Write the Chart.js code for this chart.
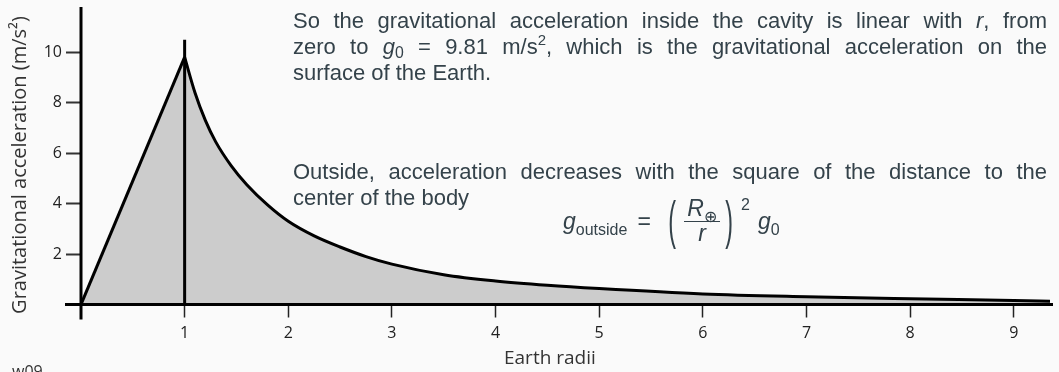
<!DOCTYPE html>
<html>
<head>
<meta charset="utf-8">
<script src="https://cdn.jsdelivr.net/npm/chart.js@4"></script>
<style>
  html, body { margin: 0; padding: 0; background: #fafafa; }
  #wrap { position: relative; width: 1059px; height: 372px; overflow: hidden; }
  canvas { position: absolute; left: 0; top: 0; }
  .note {
    position: absolute; color: #34424a;
    font: 22px "Liberation Sans", Arial, sans-serif; line-height: 26px;
  }
  .jl { text-align: justify; text-align-last: justify; white-space: nowrap; }
  .note sub { font-size: 0.72em; vertical-align: -0.25em; line-height: 0; }
  .note sup { font-size: 0.68em; vertical-align: 0.6em; line-height: 0; }
  .formula {
    position: absolute; display: flex; align-items: center; height: 50px;
    color: #34424a; white-space: nowrap;
    font: 23px "Liberation Sans", Arial, sans-serif;
  }
  .formula sub { font-size: 16px; vertical-align: -0.35em; line-height: 0; font-style: normal; }
  .paren { display: inline-block; font-size: 31px; transform: scale(0.75, 1.7); }
  .frac { display: inline-flex; flex-direction: column; align-items: center; line-height: 23px; }
  .frac .num { border-bottom: 1.5px solid #34424a; padding: 0 3px 1px; }
  .exp { font-size: 16px; align-self: flex-start; }
  .axis-title { position: absolute; color: #333; font: 19px "Open Sans", sans-serif; white-space: nowrap; }
  .y-title { position: absolute; left: 18px; top: 165px; color: #333; font: 20px "Open Sans", sans-serif;
             white-space: nowrap; transform: translate(-50%, -50%) rotate(-90deg); }
  .tag { position: absolute; left: 12px; top: 360px; color: #333; font: 16px "Open Sans", sans-serif; }
</style>
</head>
<body>
<div id="wrap">
  <canvas id="chart" width="1059" height="372"></canvas>

  <div class="note" style="left:293px; top:8px; width:754px">
    <div class="jl">So the gravitational acceleration inside the cavity is linear with <i>r</i>, from</div>
    <div class="jl">zero to <i>g</i><sub>0</sub> = 9.81 m/s<sup>2</sup>, which is the gravitational acceleration on the</div>
    <div>surface of the Earth.</div>
  </div>

  <div class="note" style="left:293px; top:159px; width:754px">
    <div class="jl">Outside, acceleration decreases with the square of the distance to the</div>
    <div>center of the body</div>
  </div>

  <div class="formula" style="left:563px; top:196px">
    <span><i>g</i><sub>outside</sub></span>
    <span style="margin:0 12px 0 10px">=</span>
    <span class="paren" style="margin-left:4px">(</span>
    <span class="frac" style="margin-left:7px"><span class="num"><i>R</i><sub>⊕</sub></span><span><i>r</i></span></span>
    <span class="paren" style="margin-left:4px">)</span>
    <span class="exp" style="margin-left:7px">2</span>
    <span style="margin-left:8px"><i>g</i><sub>0</sub></span>
  </div>

  <div class="y-title">Gravitational acceleration (m/s²)</div>
  <div class="axis-title" style="left:504px; top:344px">Earth radii</div>
  <div class="tag">w09</div>
</div>

<script>
// acceleration inside the body (linear from the centre to the surface)
const insideRadii = [0, 1];
const insideAccel = [0, 9.81];

// acceleration outside the body, falling off with distance
const outsideRadii = [1, 1.1, 1.2, 1.3, 1.45, 1.6, 1.8, 2, 2.25, 2.5, 2.75, 3, 3.5, 4, 4.5, 5, 6, 7, 8, 9, 9.35];
const outsideAccel = [9.81, 8.4, 7.3, 6.45, 5.5, 4.75, 3.95, 3.3, 2.72, 2.28, 1.9, 1.6, 1.18, 0.93, 0.76, 0.63, 0.42, 0.31, 0.23, 0.16, 0.13];

// marker at the surface (r = 1)
const surfaceRadii = [1, 1];
const surfaceAccel = [0, 10.5];

const xTickValues = [1, 2, 3, 4, 5, 6, 7, 8, 9];
const yTickValues = [2, 4, 6, 8, 10];

const toPoints = (xs, ys) => xs.map((x, i) => ({ x, y: ys[i] }));

const tickFont = { family: 'Open Sans', size: 16 };

// axis lines that run slightly past the chart area, like a hand-drawn plot
const axisLines = {
    id: 'axisLines',
    afterDatasetsDraw(chart) {
        const { ctx, chartArea, scales: { x, y } } = chart;
        const x0 = x.getPixelForValue(0);
        const y0 = y.getPixelForValue(0);
        ctx.save();
        ctx.strokeStyle = '#000';
        ctx.lineWidth = 3;
        ctx.beginPath();
        ctx.moveTo(x0 - 16, y0);
        ctx.lineTo(chart.width - 6, y0);
        ctx.moveTo(x0, chartArea.top);
        ctx.lineTo(x0, y0 + 15);
        ctx.stroke();
        ctx.restore();
    }
};

new Chart(document.getElementById('chart'), {
    type: 'line',
    data: {
        datasets: [{
            label: 'surface',
            data: toPoints(surfaceRadii, surfaceAccel),
            borderColor: '#000',
            borderWidth: 3,
            pointRadius: 0,
            fill: false,
            order: 0
        }, {
            label: 'inside',
            data: toPoints(insideRadii, insideAccel),
            borderColor: '#000',
            borderWidth: 3,
            backgroundColor: '#cccccc',
            pointRadius: 0,
            tension: 0,
            fill: 'origin',
            order: 1
        }, {
            label: 'outside',
            data: toPoints(outsideRadii, outsideAccel),
            borderColor: '#000',
            borderWidth: 3,
            backgroundColor: '#cccccc',
            pointRadius: 0,
            cubicInterpolationMode: 'monotone',
            fill: 'origin',
            order: 2
        }]
    },
    options: {
        responsive: false,
        animation: false,
        layout: { padding: { top: 7, right: 9, left: 0, bottom: 0 } },
        plugins: {
            legend: { display: false },
            tooltip: { enabled: false }
        },
        scales: {
            x: {
                type: 'linear',
                min: 0,
                max: 9.35,
                border: { display: false },
                grid: {
                    drawOnChartArea: false,
                    drawTicks: true,
                    tickLength: 13,
                    tickWidth: 1.5,
                    tickColor: '#222'
                },
                ticks: { font: tickFont, color: '#222', padding: 6, maxRotation: 0 },
                afterBuildTicks: scale => { scale.ticks = xTickValues.map(v => ({ value: v })); },
                afterFit: scale => {
                    scale.height = 67.5;
                    scale.paddingLeft = scale.paddingRight = 0;
                }
            },
            y: {
                type: 'linear',
                min: 0,
                max: 11.8,
                border: { display: false },
                grid: {
                    drawOnChartArea: false,
                    drawTicks: true,
                    tickLength: 15,
                    tickWidth: 2,
                    tickColor: '#333'
                },
                ticks: { font: tickFont, color: '#222', padding: 4 },
                afterBuildTicks: scale => { scale.ticks = yTickValues.map(v => ({ value: v })); },
                afterFit: scale => {
                    scale.width = 81;
                    scale.paddingTop = scale.paddingBottom = 0;
                }
            }
        }
    },
    plugins: [axisLines]
});
</script>
</body>
</html>
